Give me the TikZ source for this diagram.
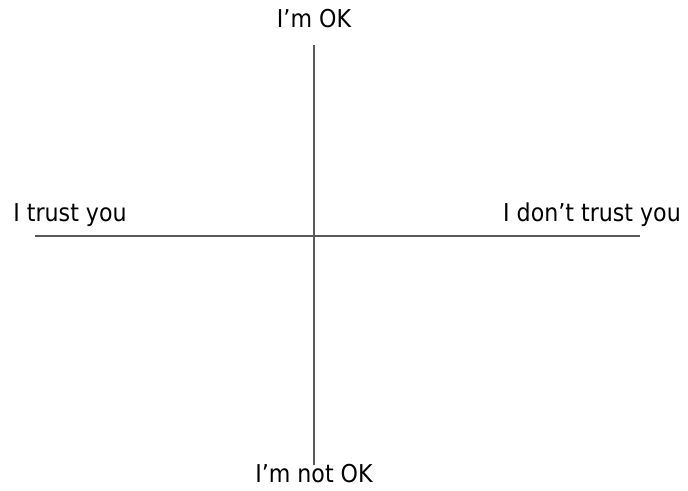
\documentclass[tikz,border=0pt]{standalone}
\usepackage{fontspec}
\setmainfont{DejaVu Sans Condensed}
\usepackage{tikz}
\usetikzlibrary{positioning}

\begin{document}
\begin{tikzpicture}[
  label/.style={inner sep=0pt, font=\fontsize{14}{16}\selectfont},
  axis/.style={draw=black!65, line width=0.9pt}
]
\useasboundingbox (0,0) rectangle (13.76,9.8);
% axes end points
\coordinate (top) at (6.28,8.9);
\coordinate (bottom) at (6.28,0.5);
\coordinate (left) at (0.7,5.08);
\coordinate (right) at (12.8,5.08);
% labels
\node[label] (ok) at (6.28,9.42) {I’m OK};
\node[label] (notok) at (6.28,0.32) {I’m not OK};
\node[label] (trust) at (1.4,5.5) {I trust you};
\node[label] (distrust) at (11.84,5.5) {I don’t trust you};
\draw[axis] (top) -- (bottom);
\draw[axis] (left) -- (right);
\end{tikzpicture}
\end{document}
